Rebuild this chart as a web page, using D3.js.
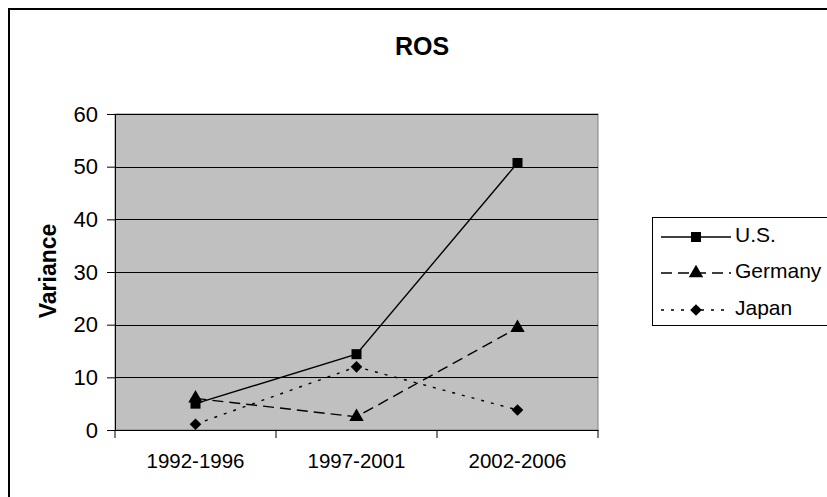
<!DOCTYPE html>
<html>
<head>
<meta charset="utf-8">
<script src="https://cdn.jsdelivr.net/npm/d3@7"></script>
<style>
  body { margin: 0; background: #fff; }
  svg { display: block; font-family: Arial, 'Liberation Sans', sans-serif; }
</style>
</head>
<body>
<div id="chart"></div>
<script>
const periods = ['1992-1996', '1997-2001', '2002-2006'];
const usValues = [5.0, 14.4, 50.7];
const germanyValues = [6.0, 2.5, 19.4];
const japanValues = [1.1, 12.0, 3.8];
const yTicks = [0, 10, 20, 30, 40, 50, 60];
const seriesNames = ['U.S.', 'Germany', 'Japan'];

const W = 827, H = 497;
const plot = { left: 115, top: 114, right: 598, bottom: 430 };
const FONT = 'Arial, Liberation Sans, sans-serif';

const svg = d3.select('#chart').append('svg')
  .attr('width', W).attr('height', H);

// outer chart frame (cropped at right and bottom)
svg.append('rect')
  .attr('x', 9).attr('y', 9)
  .attr('width', W + 10).attr('height', H + 10)
  .attr('fill', '#fff')
  .attr('stroke', '#000').attr('stroke-width', 2);

svg.append('text')
  .attr('x', 422).attr('y', 55)
  .attr('text-anchor', 'middle')
  .attr('font-size', '25px').attr('font-weight', 'bold')
  .text('ROS');

const x = d3.scaleBand().domain(periods).range([plot.left, plot.right]);
const y = d3.scaleLinear().domain([0, 60]).range([plot.bottom, plot.top]);
const cx = d => x(d) + x.bandwidth() / 2;

// plot area
svg.append('rect')
  .attr('x', plot.left).attr('y', plot.top)
  .attr('width', plot.right - plot.left).attr('height', plot.bottom - plot.top)
  .attr('fill', '#c0c0c0')
  .attr('stroke', '#808080').attr('stroke-width', 1);

svg.append('g')
  .selectAll('line')
  .data(yTicks.filter(t => t > 0))
  .enter()
  .append('line')
  .attr('x1', plot.left).attr('x2', plot.right)
  .attr('y1', d => Math.round(y(d)) + 0.5).attr('y2', d => Math.round(y(d)) + 0.5)
  .attr('stroke', '#000').attr('stroke-width', 1);

// y axis
const yAxis = svg.append('g')
  .attr('transform', `translate(${plot.left},0)`)
  .call(d3.axisLeft(y).tickValues(yTicks).tickSize(8).tickPadding(9));
yAxis.selectAll('text').attr('font-size', '22px').attr('fill', '#000')
  .attr('font-family', FONT);
yAxis.selectAll('line, path').attr('stroke', '#000');

// x axis
const xAxis = svg.append('g')
  .attr('transform', `translate(0,${plot.bottom})`)
  .call(d3.axisBottom(x).tickSize(0).tickPadding(23));
xAxis.selectAll('text').attr('font-size', '20.5px').attr('fill', '#000')
  .attr('font-family', FONT);
xAxis.select('path').attr('stroke', '#000');
xAxis.append('g')
  .selectAll('line')
  .data(periods.concat(['end']))
  .enter()
  .append('line')
  .attr('x1', (d, i) => i < periods.length ? x(d) : plot.right)
  .attr('x2', (d, i) => i < periods.length ? x(d) : plot.right)
  .attr('y1', 0).attr('y2', 8)
  .attr('stroke', '#000');

svg.append('text')
  .attr('transform', `translate(56,${(plot.top + plot.bottom) / 2 - 1}) rotate(-90)`)
  .attr('text-anchor', 'middle')
  .attr('font-size', '23px').attr('font-weight', 'bold')
  .text('Variance');

const series = [
  { name: seriesNames[0], values: usValues, dash: null, marker: d3.symbolSquare, size: 100, rot: 0 },
  { name: seriesNames[1], values: germanyValues, dash: '11,6', marker: d3.symbolTriangle, size: 90, rot: 0 },
  { name: seriesNames[2], values: japanValues, dash: '3,7', marker: d3.symbolSquare, size: 68, rot: 45 }
];

const line = d3.line().x(d => cx(d.p)).y(d => y(d.v));

series.forEach(s => {
  const pts = periods.map((p, i) => ({ p: p, v: s.values[i] }));
  svg.append('path')
    .datum(pts)
    .attr('d', line)
    .attr('fill', 'none')
    .attr('stroke', '#000').attr('stroke-width', 1.4)
    .attr('stroke-dasharray', s.dash);
  svg.selectAll(null)
    .data(pts)
    .enter()
    .append('path')
    .attr('d', d3.symbol().type(s.marker).size(s.size))
    .attr('transform', d => `translate(${cx(d.p)},${y(d.v)}) rotate(${s.rot})`)
    .attr('fill', '#000');
});

// legend
svg.append('rect')
  .attr('x', 652.5).attr('y', 217.5)
  .attr('width', 200).attr('height', 108)
  .attr('fill', '#fff')
  .attr('stroke', '#000').attr('stroke-width', 1);

const rowY = [237, 273, 310];
series.forEach((s, i) => {
  const g = svg.append('g').attr('transform', `translate(0,${rowY[i]})`);
  g.append('line')
    .attr('x1', 661).attr('x2', 731).attr('y1', 0).attr('y2', 0)
    .attr('stroke', '#000').attr('stroke-width', 1.4)
    .attr('stroke-dasharray', s.dash);
  g.append('path')
    .attr('d', d3.symbol().type(s.marker).size(s.size))
    .attr('transform', `translate(696,0) rotate(${s.rot})`)
    .attr('fill', '#000');
  g.append('text')
    .attr('x', 735).attr('y', 5)
    .attr('font-size', '21px')
    .text(s.name);
});
</script>
</body>
</html>
